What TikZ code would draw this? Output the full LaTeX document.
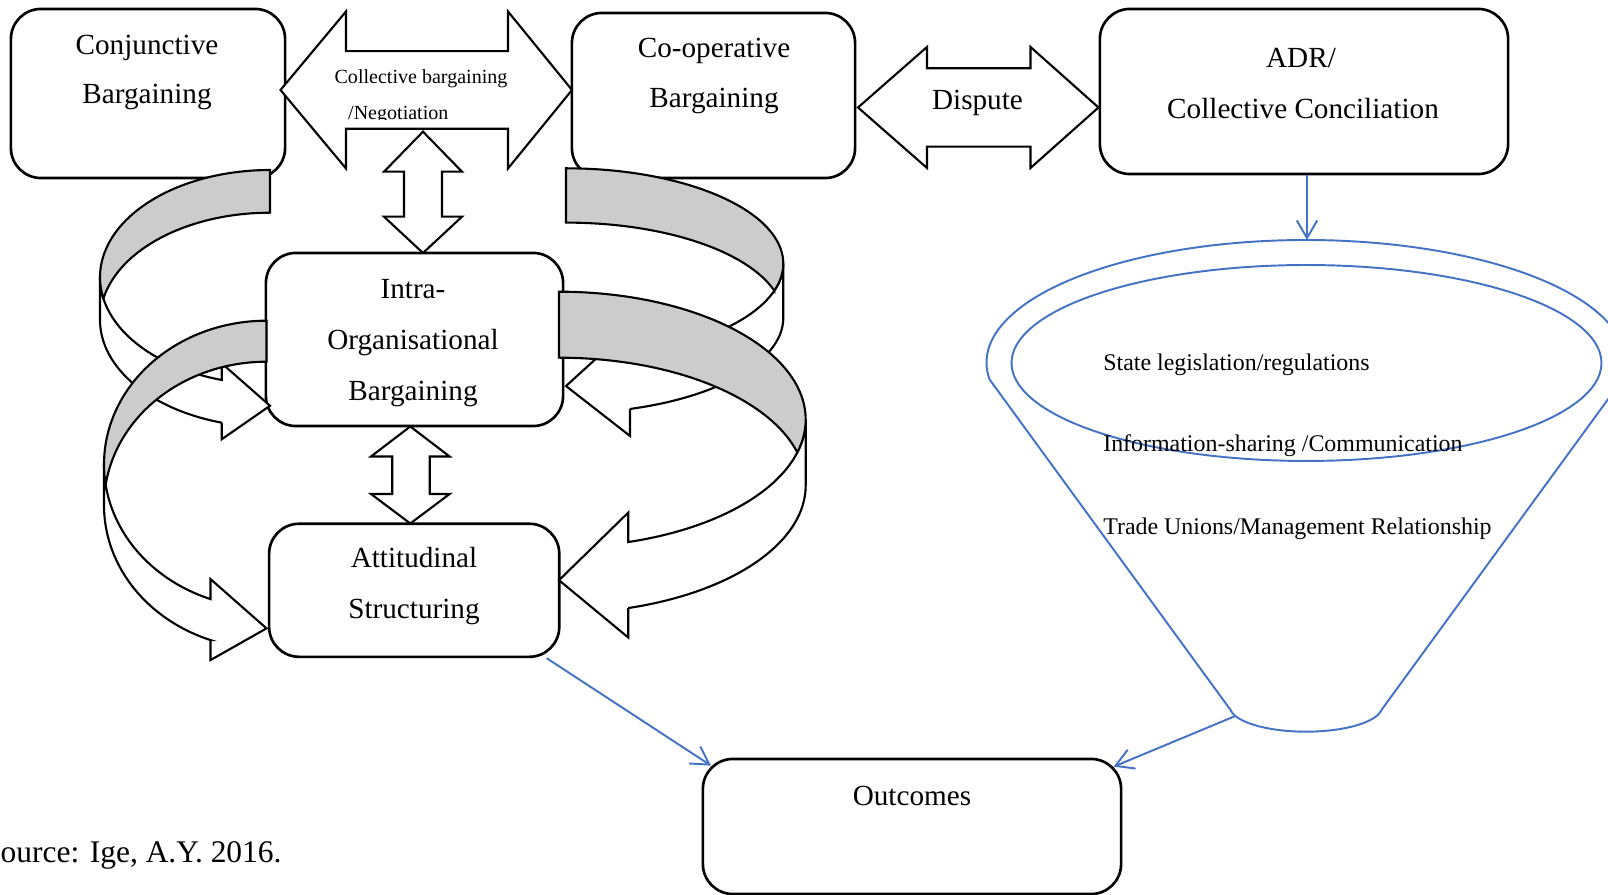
\documentclass[tikz,border=0pt]{standalone}
\usepackage{fontspec}
\setmainfont{Liberation Serif}
\usetikzlibrary{arrows.meta,calc}
\definecolor{ablue}{RGB}{68,114,196}
\definecolor{agray}{RGB}{204,204,204}

% curved ribbon arrow: #1 sigma (1 = points right, -1 = points left), #2 tip x,
% #3 horizontal radius, #4 top, #5 vertical radius, #6 band thickness, #7 head width, #8 head length
\newcommand\curvedarr[8]{%
  \pgfmathsetmacro\qaS{#1}%
  \pgfmathsetmacro\qaX{#2}%
  \pgfmathsetmacro\qaW{#3}%
  \pgfmathsetmacro\qaT{#4}%
  \pgfmathsetmacro\qaR{#5}%
  \pgfmathsetmacro\qaH{#6}%
  \pgfmathsetmacro\qaA{#7}%
  \pgfmathsetmacro\qaN{#8}%
  \pgfmathsetmacro\qaC{\qaT+\qaR}%
  \pgfmathsetmacro\qaD{\qaC+\qaH}%
  \pgfmathsetmacro\qaP{180-acos(\qaN/\qaW)}%
  \pgfmathsetmacro\qaXa{\qaX-\qaS*\qaN}%
  \pgfmathsetmacro\qaYf{\qaC+\qaR*sin(\qaP)}%
  \pgfmathsetmacro\qaYs{\qaYf+\qaH}%
  \pgfmathsetmacro\qaE{(\qaA-\qaH)/2}%
  \pgfmathsetmacro\qaYt{\qaC+\qaR+\qaH/2}%
  \pgfmathsetmacro\qaG{asin(\qaH/(2*\qaR))}%
  \pgfmathsetmacro\qaGa{180+\qaG}%
  \pgfmathsetmacro\qaGb{180-\qaG}%
  \pgfmathsetmacro\qaYu{\qaYf-\qaE}%
  \pgfmathsetmacro\qaYl{\qaYs+\qaE}%
  \filldraw[arrline, fill=white]
    plot[domain=180:\qaP, samples=50, variable=\t] ({\qaX+\qaS*\qaW*cos(\t)}, {\qaC+\qaR*sin(\t)})
    -- (\qaXa,\qaYu) -- (\qaX,\qaYt) -- (\qaXa,\qaYl) -- (\qaXa,\qaYs)
    -- plot[domain=\qaP:180, samples=50, variable=\t] ({\qaX+\qaS*\qaW*cos(\t)}, {\qaD+\qaR*sin(\t)})
    -- cycle;
  \filldraw[arrline, fill=agray]
    plot[domain=270:\qaGa, samples=50, variable=\t] ({\qaX+\qaS*\qaW*cos(\t)}, {\qaD+\qaR*sin(\t)})
    -- plot[domain=\qaGb:270, samples=50, variable=\t] ({\qaX+\qaS*\qaW*cos(\t)}, {\qaC+\qaR*sin(\t)})
    -- cycle;
}

\begin{document}
\begin{tikzpicture}[x=0.01cm, y=-0.01cm,
  box/.style={draw, line width=0.75pt, rounded corners=0.3cm, fill=white, inner sep=0pt},
  lbl/.style={font=\fontsize{8.3}{10}\selectfont, inner sep=0pt, anchor=base},
  small/.style={font=\fontsize{5.7}{7}\selectfont, inner sep=0pt, anchor=base},
  funtext/.style={font=\fontsize{6.8}{8}\selectfont, inner sep=0pt, anchor=base west},
  blockarr/.style={draw, line width=0.6pt, line join=miter, fill=white},
  arrline/.style={draw=black, line width=0.6pt, line join=miter},
  funnel/.style={draw=ablue, line width=0.55pt},
  bluearr/.style={draw=ablue, line width=0.55pt, -{Straight Barb[length=5pt,width=5.8pt]}}]

\useasboundingbox (0,0) rectangle (1608,895);
\clip (0,0) rectangle (1608,895);

% top boxes
\node[box, minimum width=2.74cm, minimum height=1.69cm] (conj) at (148,93.5) {};
\node[box, minimum width=2.83cm, minimum height=1.65cm] (coop) at (713.5,95.5) {};
\node[box, minimum width=4.08cm, minimum height=1.65cm] (adr) at (1304,91.5) {};

% collective bargaining double arrow
\path[blockarr] (280.5,90) -- (346,11.5) -- (346,51.2) -- (508,51.2) -- (508,11.5) -- (572,90)
  -- (508,168.5) -- (508,128.8) -- (346,128.8) -- (346,168.5) -- cycle;
\node[small] (cb1) at (421,84) {Collective bargaining};
\begin{scope}
  \clip (300,60) rectangle (560,119.5);
  \node[small, anchor=base west] (cb2) at (347.5,120) {/Negotiation};
\end{scope}

% dispute double arrow
\path[blockarr] (858,107.5) -- (927,47) -- (927,68.3) -- (1030.5,68.3) -- (1030.5,47) -- (1098.5,107.5)
  -- (1030.5,168) -- (1030.5,146.7) -- (927,146.7) -- (927,168) -- cycle;
\node[lbl] (disp) at (977.5,110) {Dispute};

% vertical double arrows
\path[blockarr] (423,131.7) -- (462,171.7) -- (442,171.7) -- (442,216.7) -- (462,216.7) -- (423,253)
  -- (384,216.7) -- (404,216.7) -- (404,171.7) -- (384,171.7) -- cycle;
\path[blockarr] (410.3,426.5) -- (449.6,456.5) -- (429.8,456.5) -- (429.8,494) -- (449.6,494) -- (410.3,523.5)
  -- (371,494) -- (392.2,494) -- (392.2,456.5) -- (371,456.5) -- cycle;

% middle boxes
\node[box, minimum width=2.97cm, minimum height=1.73cm] (intra) at (414.5,339.5) {};
\node[box, minimum width=2.90cm, minimum height=1.33cm] (att) at (414.2,590.3) {};

% curved ribbon arrows
\curvedarr{1}{270}{170}{170}{107.2}{42.7}{76}{48.3}
\curvedarr{1}{266.5}{162.5}{320.7}{143.6}{41}{81}{56}
\curvedarr{-1}{566}{217.3}{168.3}{95.3}{54.3}{108.3}{64}
\curvedarr{-1}{559}{246.7}{291.7}{127.75}{66}{125}{69.3}

% box texts
\node[lbl] (conjA) at (147,55) {Conjunctive};
\node[lbl] (conjB) at (147,104) {Bargaining};
\node[lbl] (coopA) at (714,58) {Co-operative};
\node[lbl] (coopB) at (714,108) {Bargaining};
\node[lbl] (adrA) at (1301,68) {ADR/};
\node[lbl] (adrB) at (1303,119) {Collective Conciliation};
\node[lbl] (intraA) at (413,299) {Intra-};
\node[lbl] (intraB) at (413,350) {Organisational};
\node[lbl] (intraC) at (413,401) {Bargaining};
\node[lbl] (attA) at (414,567.5) {Attitudinal};
\node[lbl] (attB) at (414,619) {Structuring};

% outcomes
\node[box, minimum width=4.18cm, minimum height=1.35cm] (outc) at (912,826.5) {};
\node[lbl] (outcA) at (912,806) {Outcomes};

% funnel
\draw[funnel] plot[domain=172:368, samples=100, variable=\t] ({1306+319.5*cos(\t)}, {362.5+122.5*sin(\t)})
  -- plot[domain=8:172, samples=50, variable=\t] ({1306+76.2*cos(\t)}, {706.5+25.2*sin(\t)}) -- cycle;
\draw[funnel] plot[domain=0:360, samples=120, variable=\t] ({1306.5+295*cos(\t)}, {363+98*sin(\t)});
\coordinate (funtop) at (1307,240);
\coordinate (funneck) at (1235.4,716);

\node[funtext] (f1) at (1102.6,370.7) {State legislation/regulations};
\node[funtext] (f2) at (1102.6,451.7) {Information-sharing /Communication};
\node[funtext] (f3) at (1102.6,535) {Trade Unions/Management Relationship};

% blue connectors
\draw[bluearr] (adr.south -| funtop) -- (funtop);
\draw[bluearr] ($(att.south east)+(-14,0)$) -- ($(outc.north west)+(9.5,8)$);
\draw[bluearr] (funneck) -- ($(outc.north east)+(-8.8,9)$);

% source
\node[font=\fontsize{8.95}{10}\selectfont, inner sep=0pt, anchor=base west] (src) at (-17.5,863) {Source: Ige, A.Y. 2016.};
\end{tikzpicture}
\end{document}
